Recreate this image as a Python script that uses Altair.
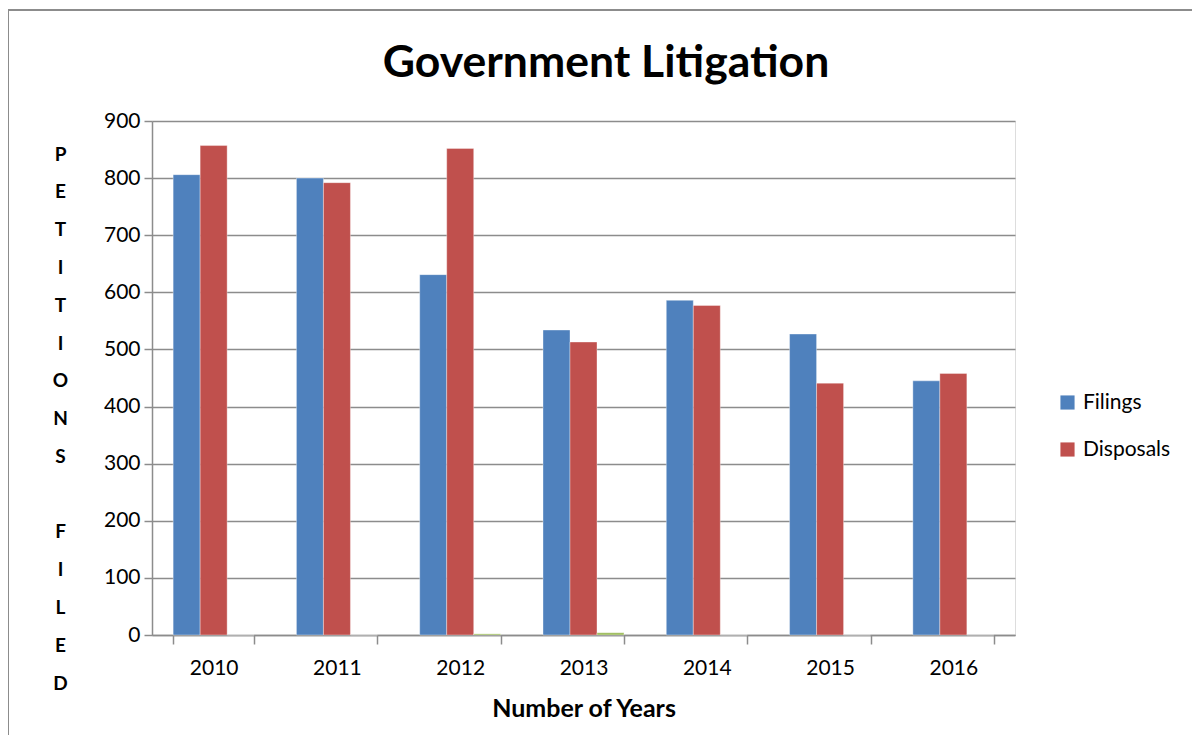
import altair as alt
import pandas as pd

years = ["2010", "2011", "2012", "2013", "2014", "2015", "2016"]
filings = [806, 800, 631, 534, 586, 527, 445]
disposals = [857, 792, 852, 513, 577, 441, 458]
series3 = [0, 0, 2, 4, 0, 0, 0]

series_names = ["Filings", "Disposals", "Series3"]
series_colors = ["#4F81BD", "#C0504D", "#9BBB59"]
y_ticks = [0, 100, 200, 300, 400, 500, 600, 700, 800, 900]
y_title_letters = ["P", "E", "T", "I", "T", "I", "O", "N", "S", "\u2800", "F", "I", "L", "E", "D"]
chart_title = "Government Litigation"

rows = []
for i, y in enumerate(years):
    rows.append({"year": y, "series": "Filings", "value": filings[i]})
    rows.append({"year": y, "series": "Disposals", "value": disposals[i]})
    rows.append({"year": y, "series": "Series3", "value": series3[i]})
df = pd.DataFrame(rows)

FONT = "Lato"

bars = alt.Chart(df).mark_bar(stroke="white", strokeWidth=0.6, strokeOpacity=0.6).encode(
    x=alt.X("year:N", sort=years,
            scale=alt.Scale(paddingInner=0.343, paddingOuter=0.1715),
            axis=alt.Axis(title="Number of Years", labelAngle=0, tickBand="extent",
                          labelFontSize=21, labelFont=FONT, labelColor="#000",
                          tickSize=9, tickColor="#8c8c8c", tickWidth=1.5,
                          domainColor="#8c8c8c", domainWidth=1.5, labelPadding=13,
                          titleFont=FONT, titleFontSize=25, titleFontWeight="bold",
                          titleColor="#000", titlePadding=18, grid=False)),
    xOffset=alt.XOffset("series:N", sort=series_names,
                        scale=alt.Scale(domain=series_names, paddingInner=0, paddingOuter=0)),
    y=alt.Y("value:Q",
            scale=alt.Scale(domain=[0, 900], nice=False),
            axis=alt.Axis(values=y_ticks, title=y_title_letters, titleAngle=0,
                          titleX=-92, titleY=24, titleAlign="center", titleBaseline="top",
                          titleFont=FONT, titleFontSize=19, titleFontWeight="bold",
                          titleColor="#000", titleLineHeight=37.8,
                          labelFontSize=21, labelFont=FONT, labelColor="#000", labelPadding=4,
                          tickSize=8, tickColor="#8c8c8c", tickWidth=1.5,
                          domainColor="#8c8c8c", domainWidth=1.5,
                          gridColor="#8c8c8c", gridWidth=1.5)),
    color=alt.Color("series:N",
                    scale=alt.Scale(domain=series_names, range=series_colors),
                    legend=alt.Legend(values=["Filings", "Disposals"], title=None,
                                      orient="none", legendX=905, legendY=271,
                                      symbolType="square", symbolSize=200,
                                      symbolStrokeWidth=0,
                                      labelFont=FONT, labelFontSize=21, labelColor="#000",
                                      rowPadding=25, labelOffset=5)),
)

frame = alt.Data(values=[{"k": 1}])
title_text = alt.Chart(frame).mark_text(
    font=FONT, fontSize=44.5, fontWeight="bold", color="#000",
    align="center", baseline="alphabetic"
).encode(x=alt.value(454), y=alt.value(-44), text=alt.value(chart_title))

top_line = alt.Chart(frame).mark_rule(color="#8c8c8c", strokeWidth=2).encode(
    x=alt.value(-144), x2=alt.value(1040), y=alt.value(-111)
)
left_line = alt.Chart(frame).mark_rule(color="#8c8c8c", strokeWidth=2).encode(
    x=alt.value(-144), y=alt.value(-111), y2=alt.value(640)
)

chart = alt.layer(bars, title_text, top_line, left_line).properties(
    width=863, height=514,
    autosize=alt.AutoSizeParams(type="none"),
    padding={"left": 144, "top": 113, "right": 177, "bottom": 100},
).configure_view(stroke=None).configure(background="white")

chart.save("out.html", embed_options={"renderer": "svg", "actions": False})
